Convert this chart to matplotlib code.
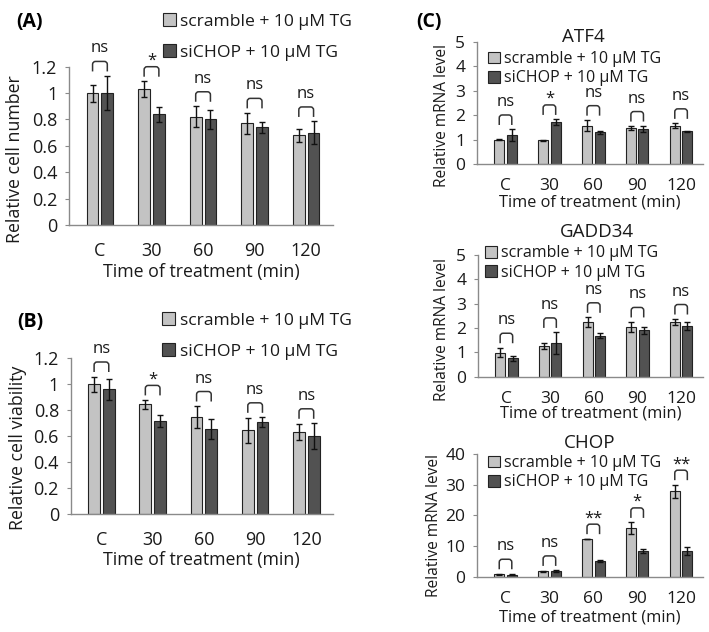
import numpy as np
import matplotlib.pyplot as plt
from matplotlib.path import Path
from matplotlib.patches import PathPatch

plt.rcParams['font.family'] = ['Open Sans', 'DejaVu Sans']

# ---- data ----
categories = ['C', '30', '60', '90', '120']
series = ['scramble + 10 \u03bcM TG', 'siCHOP + 10 \u03bcM TG']

cellnum_scr     = [1.00, 1.03, 0.82, 0.77, 0.68]
cellnum_scr_err = [0.065, 0.06, 0.08, 0.08, 0.05]
cellnum_si      = [1.00, 0.84, 0.80, 0.74, 0.70]
cellnum_si_err  = [0.13, 0.056, 0.075, 0.04, 0.085]
cellnum_sig     = ['ns', '*', 'ns', 'ns', 'ns']

viab_scr     = [1.00, 0.845, 0.75, 0.645, 0.632]
viab_scr_err = [0.06, 0.035, 0.083, 0.098, 0.06]
viab_si      = [0.963, 0.716, 0.657, 0.71, 0.60]
viab_si_err  = [0.08, 0.045, 0.074, 0.036, 0.10]
viab_sig     = ['ns', '*', 'ns', 'ns', 'ns']

atf4_scr     = [1.00, 0.98, 1.57, 1.48, 1.57]
atf4_scr_err = [0.02, 0.03, 0.23, 0.07, 0.10]
atf4_si      = [1.18, 1.71, 1.30, 1.44, 1.34]
atf4_si_err  = [0.24, 0.12, 0.05, 0.12, 0.02]
atf4_sig     = ['ns', '*', 'ns', 'ns', 'ns']

gadd_scr     = [0.99, 1.26, 2.25, 2.05, 2.25]
gadd_scr_err = [0.20, 0.12, 0.19, 0.20, 0.12]
gadd_si      = [0.75, 1.37, 1.68, 1.90, 2.08]
gadd_si_err  = [0.11, 0.45, 0.10, 0.15, 0.18]
gadd_sig     = ['ns', 'ns', 'ns', 'ns', 'ns']

chop_scr     = [0.76, 1.74, 12.3, 15.8, 27.9]
chop_scr_err = [0.2, 0.15, 0.1, 1.9, 2.1]
chop_si      = [0.65, 1.85, 5.1, 8.4, 8.4]
chop_si_err  = [0.1, 0.2, 0.25, 0.7, 1.2]
chop_sig     = ['ns', 'ns', '**', '*', '**']

W, H = 709, 632
fig = plt.figure(figsize=(W / 100, H / 100), dpi=100)

light, dark = '#c3c3c3', '#525252'
bw, off = 0.23, 0.143
txt = '#1a1a1a'


def px_axes(x0, y0, x1, y1):
    return fig.add_axes([x0 / W, 1 - y1 / H, (x1 - x0) / W, (y1 - y0) / H])


def panel(ax, scr, scr_err, si, si_err, sig, ymax, ystep, xlim, fs, xpad):
    x = np.arange(len(categories))
    b1 = ax.bar(x - off, scr, bw, yerr=scr_err, color=light, edgecolor='#222222',
                linewidth=0.8, error_kw=dict(ecolor='#111111', elinewidth=1, capsize=2.5, capthick=1))
    b2 = ax.bar(x + off, si, bw, yerr=si_err, color=dark, edgecolor='#222222',
                linewidth=0.8, error_kw=dict(ecolor='#111111', elinewidth=1, capsize=2.5, capthick=1))
    ax.set_xlim(*xlim)
    ax.set_ylim(0, ymax)
    ticks = np.arange(0, ymax + ystep / 2, ystep)
    ax.set_yticks(ticks)
    ax.set_yticklabels([f'{t:g}' for t in ticks], fontsize=fs, color=txt)
    ax.set_xticks(x)
    ax.set_xticklabels(categories, fontsize=fs, color=txt)
    for s in ['top', 'right']:
        ax.spines[s].set_visible(False)
    for s in ['left', 'bottom']:
        ax.spines[s].set_color('#8a8a8a')
        ax.spines[s].set_linewidth(1)
    ax.tick_params(axis='y', length=3, color='#8a8a8a', pad=5.5)
    ax.tick_params(axis='x', length=0, pad=xpad)

    # brackets with significance marks
    pos = ax.get_position()
    ypx = ymax / (pos.height * H)
    xpx = (xlim[1] - xlim[0]) / (pos.width * W)
    for i in range(len(categories)):
        top = max(scr[i] + scr_err[i], si[i] + si_err[i])
        yb = top + 4.5 * ypx
        yt = yb + 10 * ypx
        x1, x2 = i - off, i + off
        rx, ry = 3 * xpx, 3 * ypx
        verts = [(x1, yb), (x1, yt - ry), (x1, yt), (x1 + rx, yt),
                 (x2 - rx, yt), (x2, yt), (x2, yt - ry), (x2, yb)]
        codes = [Path.MOVETO, Path.LINETO, Path.CURVE3, Path.CURVE3,
                 Path.LINETO, Path.CURVE3, Path.CURVE3, Path.LINETO]
        ax.add_patch(PathPatch(Path(verts, codes), fill=False, lw=1.1,
                               ec='#333333', clip_on=False))
        dy = 9 if sig[i] == 'ns' else 2
        ax.text(i, yt + dy * ypx, sig[i], ha='center', va='baseline',
                fontsize=12, color=txt, clip_on=False)
    return b1, b2


def legend(ax, bars, xleft, ycen, fs, spacing):
    ax.legend(bars, series, loc='center left',
              bbox_to_anchor=(xleft / W, 1 - ycen / H), bbox_transform=fig.transFigure,
              frameon=False, fontsize=fs, handlelength=0.75, handleheight=0.75,
              handletextpad=0.25, labelspacing=spacing, borderpad=0, borderaxespad=0,
              labelcolor=txt)


# (A) relative cell number
axA = px_axes(69, 66.7, 333, 225)
bars = panel(axA, cellnum_scr, cellnum_scr_err, cellnum_si, cellnum_si_err, cellnum_sig,
             1.2, 0.2, (-0.6, 4.52), 13, 12.5)
legend(axA, bars, 163, 37, 12.6, 0.8)
axA.set_ylabel('Relative cell number', fontsize=12.8, color=txt)
axA.yaxis.set_label_coords(-0.205, 0.417)
axA.set_xlabel('Time of treatment (min)', fontsize=12.8, color=txt)
axA.xaxis.set_label_coords(0.5, -0.295)
axA.xaxis.label.set_va('center')
axA.yaxis.label.set_va('center')
fig.text(30 / W, 1 - 22 / H, '(A)', fontsize=14, fontweight='bold', ha='center', va='center')

# (B) relative cell viability
axB = px_axes(70.7, 358.3, 333, 514.3)
bars = panel(axB, viab_scr, viab_scr_err, viab_si, viab_si_err, viab_sig,
             1.2, 0.2, (-0.6, 4.52), 13, 12)
legend(axB, bars, 162, 336, 12.6, 0.8)
axB.set_ylabel('Relative cell viability', fontsize=12.8, color=txt)
axB.yaxis.set_label_coords(-0.2, 0.423)
axB.set_xlabel('Time of treatment (min)', fontsize=12.8, color=txt)
axB.xaxis.set_label_coords(0.5, -0.295)
axB.xaxis.label.set_va('center')
axB.yaxis.label.set_va('center')
fig.text(30 / W, 1 - 322 / H, '(B)', fontsize=14, fontweight='bold', ha='center', va='center')

# (C) mRNA levels
genes = [
    ('ATF4', (477, 41.7, 703, 164.3), atf4_scr, atf4_scr_err, atf4_si, atf4_si_err, atf4_sig,
     5, 1, 68.7, 488, (0.469, 1.04), 441.7, 0.40, -0.31),
    ('GADD34', (478, 255, 703, 376.7), gadd_scr, gadd_scr_err, gadd_si, gadd_si_err, gadd_sig,
     5, 1, 263, 485, (0.53, 1.185), 441.7, 0.39, -0.305),
    ('CHOP', (477, 454, 703, 576.7), chop_scr, chop_scr_err, chop_si, chop_si_err, chop_sig,
     40, 10, 472.7, 488, (0.5, 1.09), 434, 0.415, -0.335),
]
for name, box, s, se, c, ce, sg, ymax, ystep, lyc, lx, tpos, ylx, yly, xly in genes:
    ax = px_axes(*box)
    bars = panel(ax, s, se, c, ce, sg, ymax, ystep, (-0.65, 4.5), 12.5, 10)
    legend(ax, bars, lx, lyc, 11.5, 0.2)
    ax.text(tpos[0], tpos[1], name, transform=ax.transAxes, ha='center', va='center',
            fontsize=13.5, color=txt)
    ax.set_ylabel('Relative mRNA level', fontsize=11.2, color=txt)
    ax.yaxis.set_label_coords((ylx - box[0]) / (box[2] - box[0]), yly)
    ax.yaxis.label.set_va('center')
    ax.set_xlabel('Time of treatment (min)', fontsize=11.8, color=txt)
    ax.xaxis.set_label_coords(0.5, xly)
    ax.xaxis.label.set_va('center')

fig.text(429 / W, 1 - 22.5 / H, '(C)', fontsize=14, fontweight='bold', ha='center', va='center')

fig.savefig('out.png', dpi=100)
